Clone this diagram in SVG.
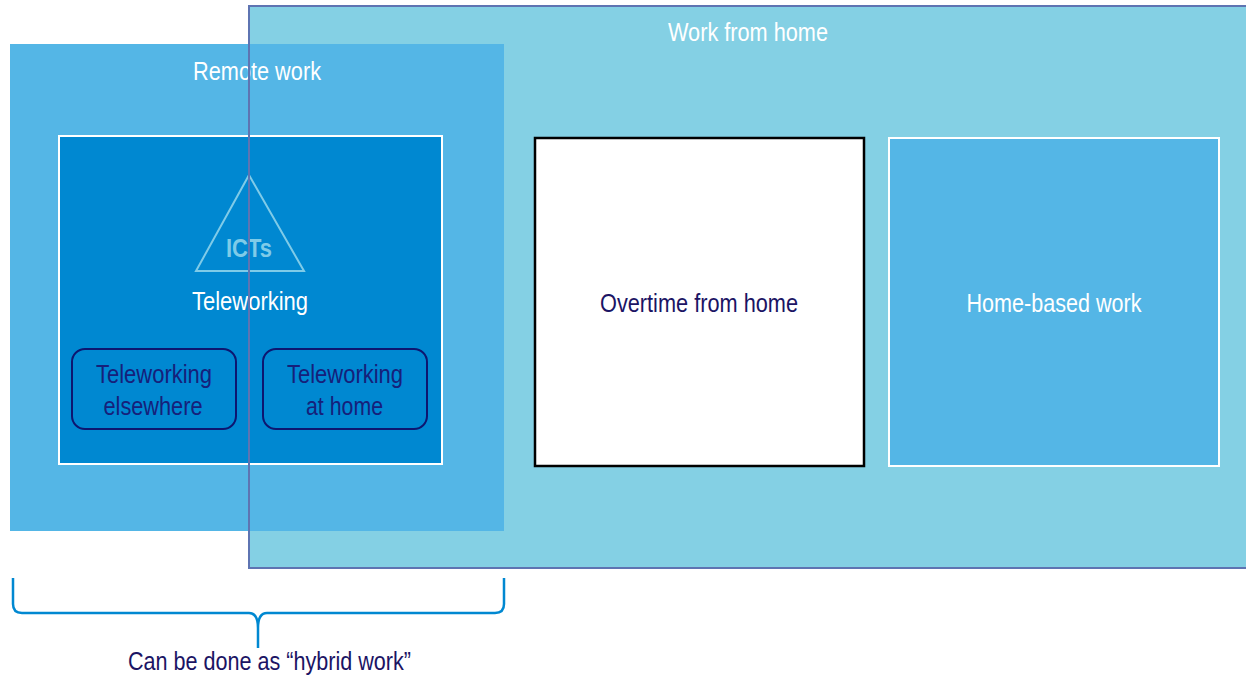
<svg xmlns="http://www.w3.org/2000/svg" width="1246" height="676" viewBox="0 0 1246 676">
<style>
  text { font-family: "Liberation Sans", Arial, sans-serif; font-size: 25px; text-anchor: middle; }
  .w { fill: #ffffff; }
  .navy { fill: #1B1464; }
  .boxnavy { fill: #16207A; }
  .sub { fill: none; stroke: #0D1670; stroke-width: 2; }
</style>
<rect width="1246" height="676" fill="#ffffff"/>
<g id="work-from-home">
  <rect x="249" y="6" width="1002" height="562" fill="#84D0E4"/>
  <text class="w" x="748" y="41" textLength="160" lengthAdjust="spacingAndGlyphs">Work from home</text>
</g>
<g id="remote-work">
  <rect x="10" y="44" width="494" height="487" fill="#54B6E6"/>
  <text class="w" x="257" y="80" textLength="128" lengthAdjust="spacingAndGlyphs">Remote work</text>
</g>
<g id="teleworking">
  <rect x="59" y="136" width="383" height="328" fill="#0088D1" stroke="#ffffff" stroke-width="2"/>
  <polygon points="249,175 196,271 304,271" fill="none" stroke="#7FCBE8" stroke-width="2"/>
  <text x="249" y="257" fill="#7FCBE8" font-weight="bold" textLength="46" lengthAdjust="spacingAndGlyphs">ICTs</text>
  <text class="w" x="250" y="310" textLength="116" lengthAdjust="spacingAndGlyphs">Teleworking</text>
</g>
<g id="teleworking-elsewhere">
  <rect class="sub" x="72" y="349" width="164" height="80" rx="13"/>
  <text class="boxnavy" x="154" y="383" textLength="116" lengthAdjust="spacingAndGlyphs">Teleworking</text>
  <text class="boxnavy" x="153" y="415" textLength="99" lengthAdjust="spacingAndGlyphs">elsewhere</text>
</g>
<g id="teleworking-at-home">
  <rect class="sub" x="263" y="349" width="164" height="80" rx="13"/>
  <text class="boxnavy" x="345" y="383" textLength="116" lengthAdjust="spacingAndGlyphs">Teleworking</text>
  <text class="boxnavy" x="344.5" y="415" textLength="77" lengthAdjust="spacingAndGlyphs">at home</text>
</g>
<g id="work-from-home-border">
  <rect x="249" y="6" width="1002" height="562" fill="none" stroke="#5E74B2" stroke-width="2"/>
</g>
<g id="overtime-from-home">
  <rect x="535" y="138" width="329" height="328" fill="#ffffff" stroke="#000000" stroke-width="2.5"/>
  <text class="navy" x="699" y="312" textLength="198" lengthAdjust="spacingAndGlyphs">Overtime from home</text>
</g>
<g id="home-based-work">
  <rect x="889" y="138" width="330" height="328" fill="#54B6E6" stroke="#ffffff" stroke-width="2"/>
  <text class="w" x="1054" y="312" textLength="175" lengthAdjust="spacingAndGlyphs">Home-based work</text>
</g>
<g id="connectors">
  <path d="M13,578 L13,604 Q13,613 22,613 L249,613 Q258,613 258,628 L258,648 M258,628 Q258,613 267,613 L495,613 Q504,613 504,604 L504,578" fill="none" stroke="#0088D1" stroke-width="2.5"/>
</g>
<g id="hybrid-label">
  <text class="navy" x="269.5" y="670" textLength="283" lengthAdjust="spacingAndGlyphs">Can be done as “hybrid work”</text>
</g>
</svg>
